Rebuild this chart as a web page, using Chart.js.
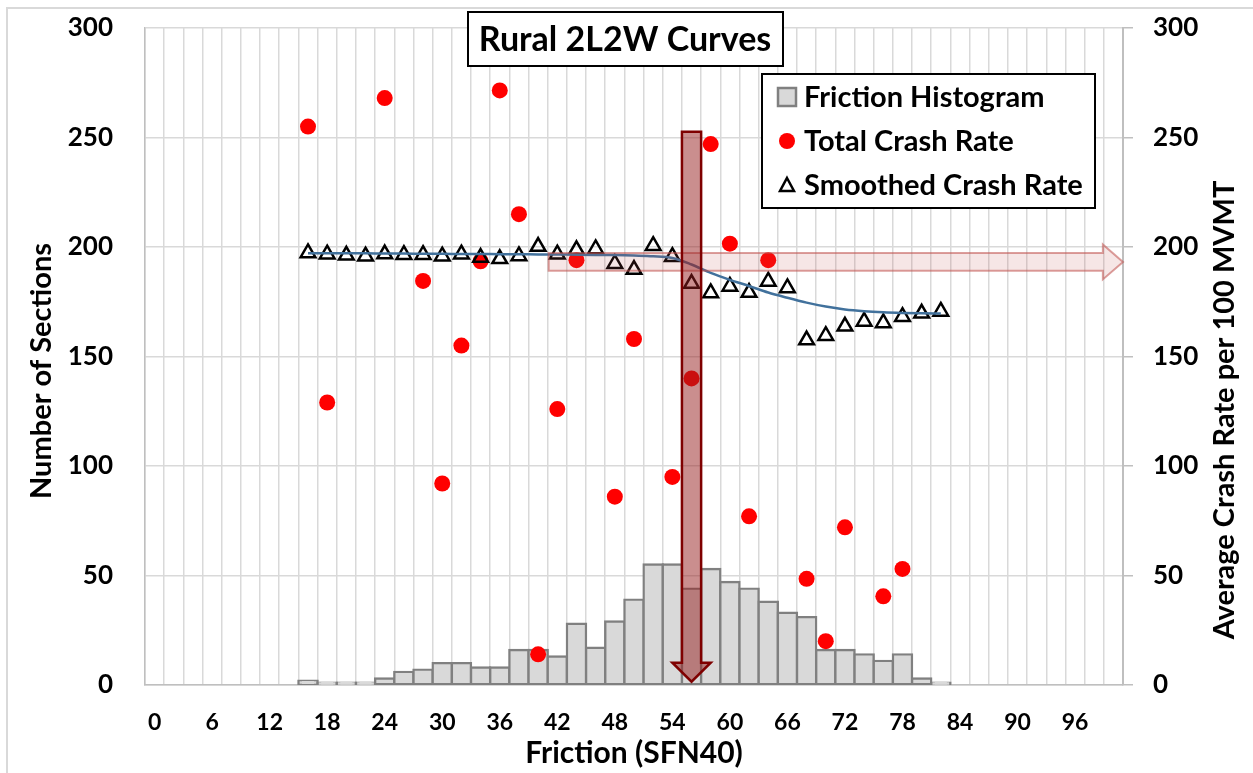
<!DOCTYPE html>
<html><head><meta charset="utf-8">
<script src="https://cdn.jsdelivr.net/npm/chart.js@4/dist/chart.umd.min.js"></script>
<style>html,body{margin:0;padding:0;background:#fff;}#wrap{width:1253px;height:773px;}</style>
</head><body><div id="wrap"><canvas id="c" width="1253" height="773"></canvas></div>
<script>
const FONT = 'Lato, "Open Sans", sans-serif';

// ---- data ----
const histBins = [16,18,20,22,24,26,28,30,32,34,36,38,40,42,44,46,48,50,52,54,56,58,60,62,64,66,68,70,72,74,76,78,80,82];
const histCounts = [2,1,1,1,3,6,7,10,10,8,8,16,16,13,28,17,29,39,55,55,44,53,47,44,38,33,31,16,16,14,11,14,3,1];
const xTickLabels = ['0','6','12','18','24','30','36','42','48','54','60','66','72','78','84','90','96'];
const totalX = [16,18,24,28,30,32,34,36,38,40,42,44,48,50,54,56,58,60,62,64,68,70,72,76,78];
const totalY = [255,129,268,184.5,92,155,193.5,271.5,215,14,126,194,86,158,95,140,247,201.5,77,194,48.5,20,72,40.5,53];
const smoothX = [16,18,20,22,24,26,28,30,32,34,36,38,40,42,44,46,48,50,52,54,56,58,60,62,64,66,68,70,72,74,76,78,80,82];
const smoothY = [197.3,196.7,196.2,195.8,196.8,196.5,196.5,195.8,196.7,195.2,194.6,195.9,200.2,196.7,198.7,199.1,192.4,189.7,200.6,195.6,183.3,179,182,179.2,184.3,181.3,157.5,159.5,163.8,166,165.3,168.2,169.7,170.6];
const fitY = [197.2,197.2,197.1,197.1,197.0,197.0,196.9,196.9,196.8,196.8,196.7,196.7,196.6,196.6,196.5,196.4,196.3,196.1,195.8,195.0,192.0,188.2,185.0,182.2,179.2,176.8,174.6,172.8,171.5,170.7,170.2,169.9,169.7,169.6];
const yTicks = [0,50,100,150,200,250,300];
const X_MIN = -1, X_MAX = 101, BIN = 2;   // histogram bin layout (bin edges at odd values)

// annotation arrows in data units
const vArrow = {x0:55, x1:57, top:252.6, headTop:10.2, headX0:54, headX1:58, tip:1.5};
const hArrow = {x0:41.1, y0:189.1, y1:197.3, headX:98.9, headY0:185.2, headY1:201.2, tip:101};

const bold = (s)=>({family:FONT, size:s, weight:'bold'});
const binEdges = [];
for (let v = X_MIN; v <= X_MAX; v += BIN) binEdges.push(v);

const extras = {
  id:'extras',
  beforeDraw(chart){
    const c = chart.ctx;
    c.save();
    c.fillStyle='#fff'; c.fillRect(0,0,chart.width,chart.height);
    c.strokeStyle='#D9D9D9'; c.lineWidth=2;
    c.strokeRect(7,8,1300,800);
    c.restore();
  },
  afterDatasetsDraw(chart){
    const c = chart.ctx, xs = chart.scales.x, ys = chart.scales.y2;
    const X = v=>xs.getPixelForValue(v), Y = v=>ys.getPixelForValue(v);
    c.save();
    c.beginPath();
    c.moveTo(X(hArrow.x0),Y(hArrow.y1));
    c.lineTo(X(hArrow.headX),Y(hArrow.y1));
    c.lineTo(X(hArrow.headX),Y(hArrow.headY1));
    c.lineTo(X(hArrow.tip),Y((hArrow.y0+hArrow.y1)/2));
    c.lineTo(X(hArrow.headX),Y(hArrow.headY0));
    c.lineTo(X(hArrow.headX),Y(hArrow.y0));
    c.lineTo(X(hArrow.x0),Y(hArrow.y0));
    c.closePath();
    c.fillStyle='rgba(192,80,77,0.14)'; c.fill();
    c.strokeStyle='rgba(192,80,77,0.55)'; c.lineWidth=2; c.stroke();
    c.beginPath();
    c.moveTo(X(vArrow.x0),Y(vArrow.top));
    c.lineTo(X(vArrow.x1),Y(vArrow.top));
    c.lineTo(X(vArrow.x1),Y(vArrow.headTop));
    c.lineTo(X(vArrow.headX1),Y(vArrow.headTop));
    c.lineTo(X((vArrow.x0+vArrow.x1)/2),Y(vArrow.tip));
    c.lineTo(X(vArrow.headX0),Y(vArrow.headTop));
    c.lineTo(X(vArrow.x0),Y(vArrow.headTop));
    c.closePath();
    c.fillStyle='rgba(150,30,30,0.5)'; c.fill();
    c.strokeStyle='#7F0000'; c.lineWidth=2.5; c.stroke();
    c.restore();
  },
  afterDraw(chart){
    const c = chart.ctx;
    c.save();
    c.fillStyle='#fff'; c.fillRect(468,12,315,54);
    c.strokeStyle='#000'; c.lineWidth=2; c.strokeRect(468,12,315,54);
    c.fillStyle='#000'; c.font='bold 34px '+FONT; c.textAlign='center'; c.textBaseline='middle';
    c.fillText('Rural 2L2W Curves',625,40);
    c.fillStyle='#fff'; c.fillRect(762,74,333,134);
    c.strokeStyle='#000'; c.lineWidth=2; c.strokeRect(762,74,333,134);
    const ds = chart.data.datasets;
    const rows = [ds[3].label, ds[2].label, ds[1].label];
    const ry = [97,141,185];
    c.font='bold 29px '+FONT; c.textAlign='left'; c.textBaseline='middle'; c.fillStyle='#000';
    rows.forEach((t,i)=>c.fillText(t,804,ry[i]+1));
    c.fillStyle='#D9D9D9'; c.fillRect(778,88,18,18);
    c.strokeStyle='#808080'; c.lineWidth=2.5; c.strokeRect(778,88,18,18);
    c.fillStyle='#FF0000'; c.beginPath(); c.arc(787,141,8,0,Math.PI*2); c.fill();
    c.strokeStyle='#000'; c.lineWidth=2.5; c.beginPath();
    c.moveTo(787,178); c.lineTo(794,191); c.lineTo(780,191); c.closePath(); c.stroke();
    c.fillStyle='#000'; c.font='bold 29px '+FONT; c.textAlign='center'; c.textBaseline='middle';
    c.save(); c.translate(42,371); c.rotate(-Math.PI/2); c.fillText('Number of Sections',0,0); c.restore();
    c.save(); c.translate(1225,410); c.rotate(-Math.PI/2); c.fillText('Average Crash Rate per 100 MVMT',0,0); c.restore();
    c.restore();
  }
};

const noPad = (s)=>{ s.paddingTop = 0; s.paddingBottom = 0; };

new Chart(document.getElementById('c'), {
  type:'bar',
  data:{
    datasets:[
      {type:'line', label:'Fit', data: smoothX.map((x,i)=>({x, y:fitY[i]})), xAxisID:'x', yAxisID:'y2',
       borderColor:'#41719C', borderWidth:2.5, pointRadius:0, cubicInterpolationMode:'monotone', fill:false, order:0},
      {type:'scatter', label:'Smoothed Crash Rate', data: smoothX.map((x,i)=>({x, y:smoothY[i]})), xAxisID:'x', yAxisID:'y2',
       pointStyle:'triangle', pointRadius:8.5, borderColor:'#000', borderWidth:2.5, backgroundColor:'rgba(0,0,0,0)', order:1},
      {type:'scatter', label:'Total Crash Rate', data: totalX.map((x,i)=>({x, y:totalY[i]})), xAxisID:'x', yAxisID:'y2',
       pointStyle:'circle', pointRadius:8, backgroundColor:'#FF0000', borderWidth:0, order:2},
      {type:'bar', label:'Friction Histogram', data: histBins.map((x,i)=>({x, y:histCounts[i]})), xAxisID:'x', yAxisID:'y',
       backgroundColor:'#D9D9D9', borderColor:'#808080', borderWidth:2.4, inflateAmount:1.2, borderSkipped:false,
       categoryPercentage:1, barPercentage:1, order:3}
    ]
  },
  options:{
    responsive:false, animation:false, devicePixelRatio:1,
    layout:{padding:{top:28,left:0,right:0,bottom:0}},
    plugins:{legend:{display:false}, tooltip:{enabled:false}},
    scales:{
      x:{type:'linear', position:'bottom', min:X_MIN, max:X_MAX, offset:false,
         afterBuildTicks(s){ s.ticks = binEdges.map(v=>({value:v})); },
         grid:{offset:false, color:'#D9D9D9', lineWidth:1.5, drawTicks:false},
         border:{color:'#BFBFBF', width:1.5},
         ticks:{display:false},
         afterFit(s){ s.height = 0; s.paddingLeft = 0; s.paddingRight = 0; }},
      xl:{type:'linear', axis:'x', position:'bottom', min:X_MIN, max:X_MAX, offset:false,
         afterBuildTicks(s){ s.ticks = xTickLabels.map(v=>({value:Number(v)})); },
         grid:{display:false, drawTicks:false, offset:false},
         border:{display:false},
         ticks:{autoSkip:false, maxRotation:0, minRotation:0, color:'#000', font:bold(23), padding:24,
           callback(v){ return String(v); }},
         title:{display:true, text:'Friction (SFN40)', color:'#000', font:bold(30), padding:{top:0,bottom:2}},
         afterFit(s){ s.height = 88; s.paddingLeft = 0; s.paddingRight = 0; }},
      y:{position:'left', min:0, max:300,
         afterBuildTicks(s){ s.ticks = yTicks.map(v=>({value:v})); },
         grid:{color:'#D9D9D9', lineWidth:1.5, drawTicks:false},
         border:{color:'#BFBFBF', width:1.5},
         ticks:{color:'#000', font:bold(26), padding:32},
         afterFit(s){ s.width = 145; noPad(s); }},
      y2:{position:'right', min:0, max:300,
         afterBuildTicks(s){ s.ticks = yTicks.map(v=>({value:v})); },
         grid:{drawOnChartArea:false, drawTicks:true, tickLength:10, color:'#BFBFBF', lineWidth:1.5},
         border:{color:'#BFBFBF', width:2},
         ticks:{color:'#000', font:bold(26), padding:20},
         afterFit(s){ s.width = 130; noPad(s); }}
    }
  },
  plugins:[extras]
});
</script></body></html>
